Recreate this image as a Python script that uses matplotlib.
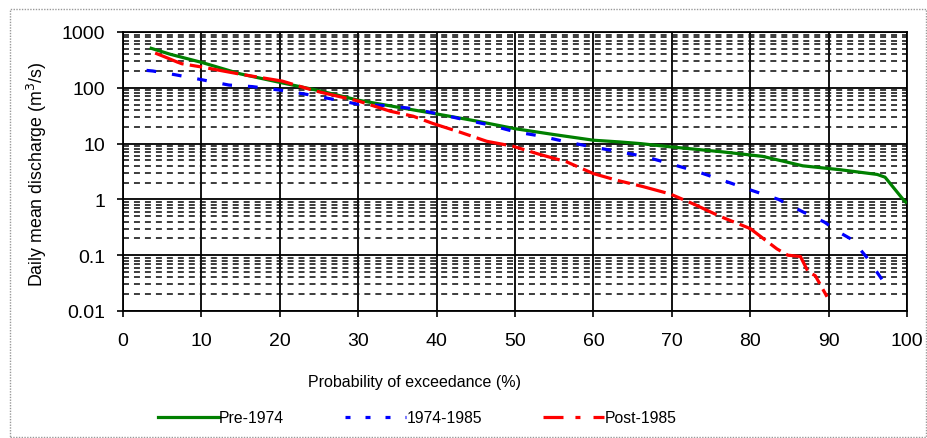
import matplotlib
matplotlib.use("Agg")
import matplotlib.pyplot as plt
from matplotlib.lines import Line2D
from matplotlib.patches import Rectangle
from matplotlib.ticker import FixedLocator, LogLocator, NullFormatter, FuncFormatter

plt.rcParams["font.family"] = ["Liberation Sans", "DejaVu Sans"]
plt.rcParams["lines.scale_dashes"] = False

# Flow duration curves: probability of exceedance (%) vs daily mean discharge (m3/s)
pre_x = [3.4, 6, 10, 15, 20, 25, 30, 35, 40, 45, 50, 55, 60, 63.4, 66, 70,
         76.5, 81.6, 86.7, 91.5, 96.2, 97.2, 99.5, 100]
pre_y = [520, 400, 286, 177, 125, 89, 60, 45, 34, 25.5, 18.5, 14.5, 11.5, 10.7,
         10, 8.7, 7.1, 5.9, 4.0, 3.4, 2.8, 2.5, 1.0, 0.85]

mid_x = [3.0, 3.8, 6.6, 10, 13.5, 16.5, 20, 23.5, 26.6, 29.9, 33.5, 36.6, 39.8,
         43.2, 46.8, 50, 53.2, 56.6, 59.9, 63.4, 66.7, 69.9, 73.1, 76.5, 80.2,
         83.6, 86.7, 89.5, 90.9, 93, 94.9, 96.8]
mid_y = [205, 200, 172, 140, 112, 105, 91, 76, 63, 51, 48, 43, 35, 27.5, 21.5,
         16.3, 13.7, 10.7, 8.7, 7.1, 5.8, 4.3, 3.2, 2.2, 1.45, 1.0, 0.6, 0.39,
         0.28, 0.19, 0.09, 0.037]

post_x = [4.1, 5.5, 6.9, 7.5, 10.1, 15, 20.3, 24.5, 30, 34.1, 37, 39.5, 43,
          46.4, 49.7, 53, 56.6, 60, 63, 66.3, 69.8, 73, 76.1, 80, 83.4, 84.8,
          86.4, 87.4, 88.3, 89.8]
post_y = [420, 350, 290, 270, 235, 175, 132, 88, 58, 38, 31, 23, 16, 11, 9,
          6.5, 4.7, 2.9, 2.2, 1.7, 1.25, 0.8, 0.5, 0.3, 0.13, 0.1, 0.095, 0.05,
          0.043, 0.018]

series_names = ["Pre-1974", "1974-1985", "Post-1985"]
x_ticks = [0, 10, 20, 30, 40, 50, 60, 70, 80, 90, 100]
y_ticks = [0.01, 0.1, 1, 10, 100, 1000]
y_tick_labels = ["0.01", "0.1", "1", "10", "100", "1000"]

GREEN = "#008000"
BLUE = "#0000FF"
RED = "#FF0000"

fig = plt.figure(figsize=(9.27, 4.39), dpi=100)
fig.patch.set_facecolor("white")

# dotted chart-area border
fig.add_artist(Rectangle((10 / 927, 1 / 439), 916 / 927, 428 / 439,
                         transform=fig.transFigure, fill=False,
                         edgecolor="#999999", lw=1.0, ls=(0, (1, 1))))

ax = fig.add_axes([123 / 927, 1 - 312 / 439, 784 / 927, 279 / 439])
ax.set_yscale("log")
ax.set_xlim(0, 100)
ax.set_ylim(0.01, 1000)

# gridlines
ax.yaxis.set_minor_locator(LogLocator(base=10, subs=range(2, 10)))
ax.yaxis.set_minor_formatter(NullFormatter())
ax.grid(which="major", axis="both", color="black", lw=1.3, ls="-", zorder=1)
ax.grid(which="minor", axis="y", color="#111111", lw=1.15,
        ls=(0, (4.3, 3.6)), zorder=1)
ax.set_axisbelow(True)

ax.xaxis.set_major_locator(FixedLocator(x_ticks))
ax.yaxis.set_major_locator(FixedLocator(y_ticks))
ax.yaxis.set_major_formatter(FuncFormatter(
    lambda v, p: y_tick_labels[y_ticks.index(v)] if v in y_ticks else ""))
ax.tick_params(axis="y", which="major", direction="out", length=4, width=1.2,
               pad=9, labelsize=14, color="black")
ax.tick_params(axis="y", which="minor", length=0)
ax.tick_params(axis="x", which="major", direction="out", length=4.5, width=1.2,
               pad=10.5, labelsize=14, color="black")
for s in ax.spines.values():
    s.set_color("black")
    s.set_linewidth(1.3)

ax.plot(pre_x, pre_y, color=GREEN, lw=2.3, solid_capstyle="butt", zorder=3)
ax.plot(mid_x, mid_y, color=BLUE, lw=2.3, dashes=(7, 11.5),
        dash_capstyle="butt", zorder=3)
ax.plot(post_x, post_y, color=RED, lw=2.3, dashes=(22, 4.5, 9, 4.5),
        dash_capstyle="butt", zorder=3)

fig.text(414.5 / 927, 1 - 383 / 439, "Probability of exceedance (%)",
         ha="center", va="center", fontsize=11.5)
fig.text(37 / 927, 1 - 174 / 439, "Daily mean discharge (m$^3$/s)",
         ha="center", va="center", rotation=90, fontsize=12.8)

handles = [
    Line2D([], [], color=GREEN, lw=2.3),
    Line2D([], [], color=BLUE, lw=2.3, dashes=(3.6, 10.8), dash_capstyle="butt"),
    Line2D([], [], color=RED, lw=2.3, dashes=(14.4, 8.6, 3.6, 9.4),
           dash_capstyle="butt"),
]
fig.legend(handles, series_names, loc="center", ncol=3,
           bbox_to_anchor=(417 / 927, 1 - 419 / 439), frameon=False,
           fontsize=11.3, handlelength=3.9, handletextpad=0.0,
           columnspacing=3.9)

fig.savefig("out.png", dpi=100, facecolor="white")
